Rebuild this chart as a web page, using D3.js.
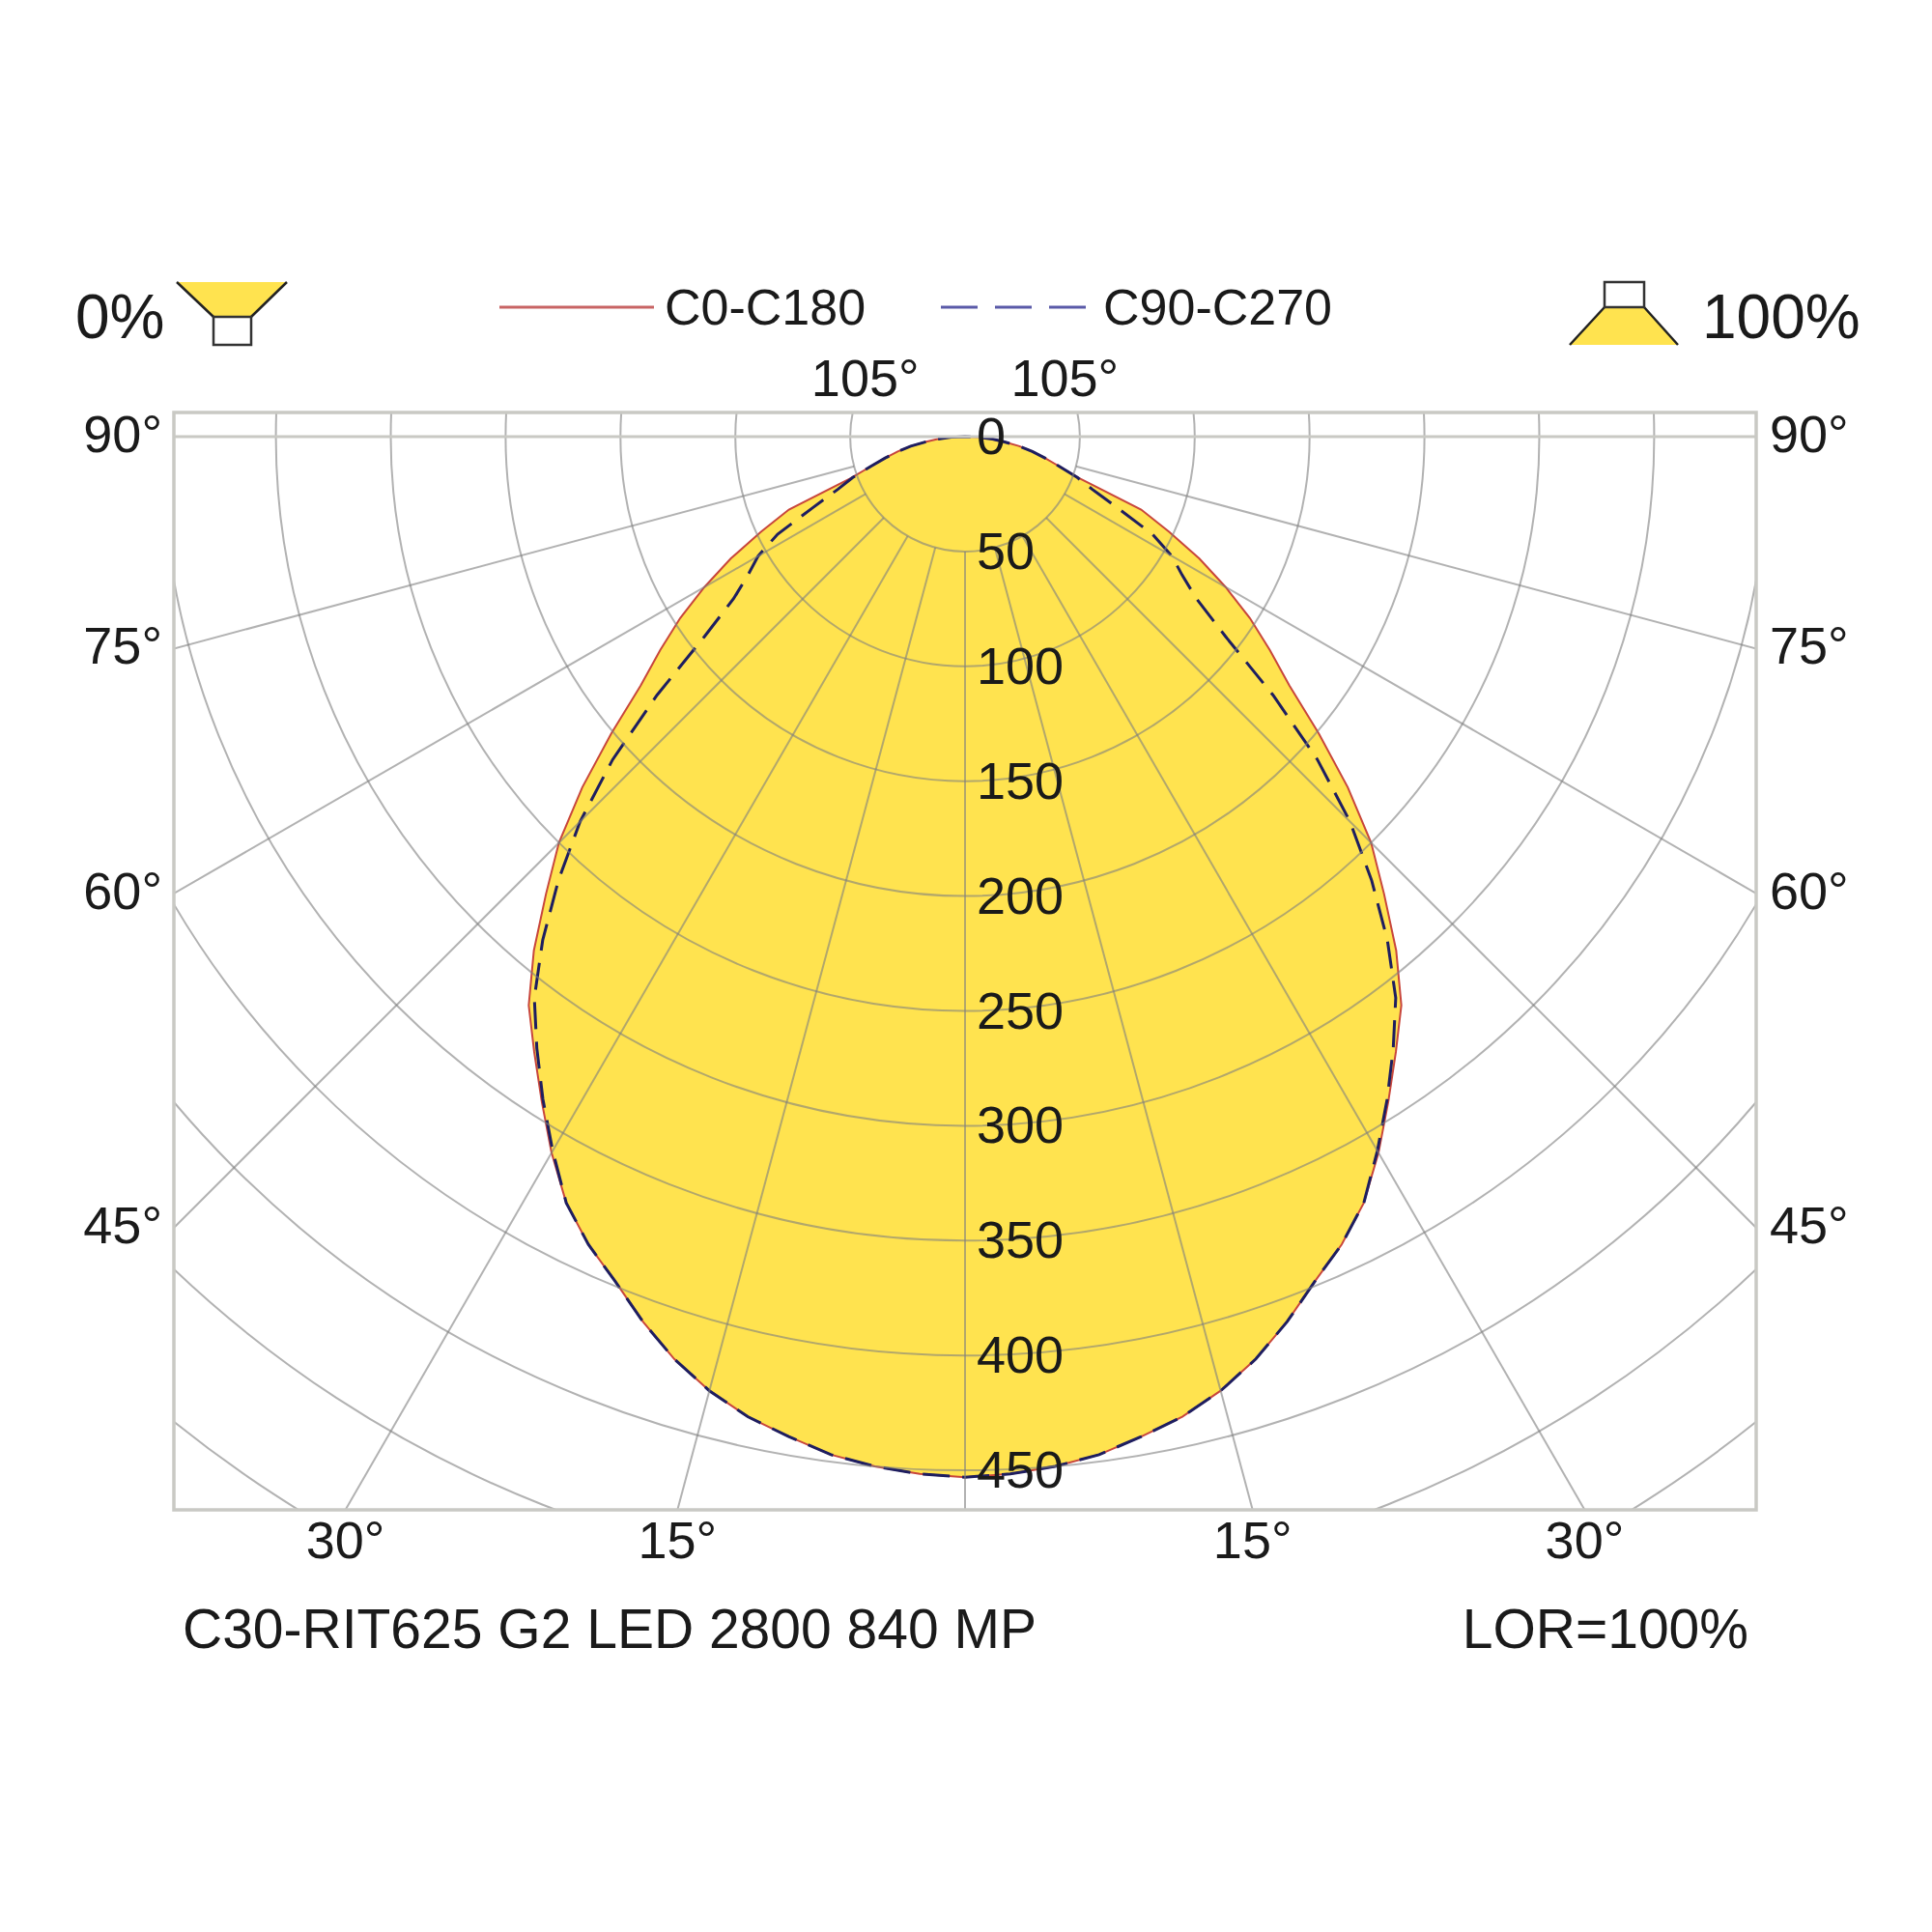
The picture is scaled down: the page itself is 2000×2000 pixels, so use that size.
<!DOCTYPE html>
<html>
<head>
<meta charset="utf-8">
<script src="https://cdn.jsdelivr.net/npm/d3@7"></script>
<style>
  html, body { margin: 0; padding: 0; background: #fff; }
  svg text { font-family: "Liberation Sans", Arial, sans-serif; fill: #1a1a1a; }
</style>
</head>
<body>
<svg id="chart" width="2000" height="2000"></svg>
<script>
// gamma angles (deg from nadir) and intensities in cd
const gammas = d3.range(0, 90.1, 2.5);
const c0c180 = [453, 452, 450, 447, 442, 437, 430, 421, 410, 398, 388, 376, 360,
  343, 327, 312, 292, 270, 250, 226, 201, 178, 162, 147, 131, 115, 98, 83, 53,
  43, 36, 30, 24, 17, 12, 6, 0];
const c90c270 = [453, 452, 450, 447, 442, 437, 430, 421, 410, 398, 388, 376, 359,
  342, 325, 308, 286, 262, 237, 208, 175, 143, 123, 112, 104, 92, 73, 60, 52,
  43, 36, 30, 24, 17, 12, 6, 0];

const intensityTicks = [0, 50, 100, 150, 200, 250, 300, 350, 400, 450];
const sideAngles = [90, 75, 60, 45];
const bottomAngles = [30, 15];
const legendNames = ["C0-C180", "C90-C270"];

const svg = d3.select('#chart');
const cx = 999, cy = 452;
const frame = { x0: 180, y0: 427, x1: 1818, y1: 1563 };
const r = d3.scaleLinear().domain([0, 50]).range([0, 118.9]);

const yellow = '#ffe34f';
const redC = '#c8463c';
const blueC = '#1e1e60';

svg.append('rect').attr('width', 2000).attr('height', 2000).attr('fill', '#fff');

svg.append('clipPath').attr('id', 'frameClip')
  .append('rect')
  .attr('x', frame.x0).attr('y', frame.y0)
  .attr('width', frame.x1 - frame.x0).attr('height', frame.y1 - frame.y0);

// both halves of a curve: left (C180 / C270) then right (C0 / C90)
function polarPts(vals) {
  let pts = [];
  gammas.slice().reverse().forEach((g, i) => {
    let v = vals[gammas.length - 1 - i];
    pts.push({ a: Math.PI + g * Math.PI / 180, v: v });
  });
  gammas.forEach((g, i) => {
    if (i > 0) pts.push({ a: Math.PI - g * Math.PI / 180, v: vals[i] });
  });
  return pts;
}

const radial = d3.lineRadial()
  .angle(d => d.a)
  .radius(d => r(d.v))
  .curve(d3.curveLinearClosed);

const plot = svg.append('g').attr('transform', `translate(${cx},${cy})`);

// fill
plot.append('path')
  .attr('d', radial(polarPts(c0c180)))
  .attr('fill', yellow)
  .attr('stroke', 'none');

// grid
const grid = svg.append('g').attr('clip-path', 'url(#frameClip)')
  .append('g').attr('transform', `translate(${cx},${cy})`);

grid.selectAll('circle.ring')
  .data(d3.range(50, 651, 50))
  .join('circle')
  .attr('class', 'ring')
  .attr('r', d => r(d))
  .attr('fill', 'none')
  .attr('stroke', '#7e7e7e')
  .attr('stroke-opacity', 0.6)
  .attr('stroke-width', 2);

grid.selectAll('line.spoke')
  .data(d3.range(-90, 91, 15))
  .join('line')
  .attr('class', 'spoke')
  .attr('x1', d => r(50) * Math.sin(d * Math.PI / 180))
  .attr('y1', d => r(50) * Math.cos(d * Math.PI / 180))
  .attr('x2', d => r(700) * Math.sin(d * Math.PI / 180))
  .attr('y2', d => r(700) * Math.cos(d * Math.PI / 180))
  .attr('stroke', '#7e7e7e')
  .attr('stroke-opacity', 0.6)
  .attr('stroke-width', 2);

// frame
svg.append('rect')
  .attr('x', frame.x0).attr('y', frame.y0)
  .attr('width', frame.x1 - frame.x0).attr('height', frame.y1 - frame.y0)
  .attr('fill', 'none')
  .attr('stroke', '#c9c9c4')
  .attr('stroke-width', 3.5);
svg.append('line')
  .attr('x1', frame.x0).attr('x2', frame.x1)
  .attr('y1', cy).attr('y2', cy)
  .attr('stroke', '#c9c9c4')
  .attr('stroke-width', 3);

// curves
plot.append('path')
  .attr('d', radial(polarPts(c0c180)))
  .attr('fill', 'none')
  .attr('stroke', redC)
  .attr('stroke-width', 2);
plot.append('path')
  .attr('d', radial(polarPts(c90c270)))
  .attr('fill', 'none')
  .attr('stroke', blueC)
  .attr('stroke-width', 3)
  .attr('stroke-dasharray', '28,13');

// intensity labels
svg.selectAll('text.cd')
  .data(intensityTicks)
  .join('text')
  .attr('class', 'cd')
  .attr('x', cx + 12)
  .attr('y', d => cy + r(d) + 18)
  .attr('font-size', 54)
  .text(d => d);

// side angle labels
const halfW = cx - frame.x0;
function sideY(a) { return a === 90 ? cy : cy + halfW / Math.tan(a * Math.PI / 180); }
svg.selectAll('text.left')
  .data(sideAngles)
  .join('text')
  .attr('class', 'left')
  .attr('x', 168)
  .attr('y', d => sideY(d) + 16)
  .attr('text-anchor', 'end')
  .attr('font-size', 54)
  .text(d => d + '°');
svg.selectAll('text.right')
  .data(sideAngles)
  .join('text')
  .attr('class', 'right')
  .attr('x', 1832)
  .attr('y', d => sideY(d) + 16)
  .attr('font-size', 54)
  .text(d => d + '°');

const depth = frame.y1 - cy;
svg.selectAll('text.bottom')
  .data(bottomAngles.concat(bottomAngles.map(d => -d).reverse()))
  .join('text')
  .attr('class', 'bottom')
  .attr('x', d => cx - depth * Math.tan(d * Math.PI / 180))
  .attr('y', 1613)
  .attr('text-anchor', 'middle')
  .attr('font-size', 54)
  .text(d => Math.abs(d) + '°');

// 105° labels at top
const topDx = (cy - frame.y0) / Math.tan(15 * Math.PI / 180);
[-1, 1].forEach(s => {
  svg.append('text')
    .attr('x', cx + s * (topDx + 10))
    .attr('y', 410)
    .attr('text-anchor', 'middle')
    .attr('font-size', 54)
    .text('105°');
});

// legend
svg.append('line')
  .attr('x1', 517).attr('x2', 677).attr('y1', 318).attr('y2', 318)
  .attr('stroke', '#c86464').attr('stroke-width', 3);
svg.append('text').attr('x', 688).attr('y', 336).attr('font-size', 52).text(legendNames[0]);
svg.append('line')
  .attr('x1', 974).attr('x2', 1136).attr('y1', 318).attr('y2', 318)
  .attr('stroke', '#5a5aa8').attr('stroke-width', 3)
  .attr('stroke-dasharray', '38,18');
svg.append('text').attr('x', 1142).attr('y', 336).attr('font-size', 52).text(legendNames[1]);

// percentages and luminaire icons
svg.append('text').attr('x', 78).attr('y', 350).attr('font-size', 64).text('0%');
svg.append('text').attr('x', 1762).attr('y', 350).attr('font-size', 64).text('100%');

// downward icon (left)
svg.append('path')
  .attr('d', 'M183,292 L297,292 L260,328 L221,328 Z')
  .attr('fill', yellow).attr('stroke', 'none');
svg.append('path')
  .attr('d', 'M183,292 L221,328 M297,292 L260,328')
  .attr('stroke', '#222').attr('stroke-width', 2.5).attr('fill', 'none');
svg.append('rect')
  .attr('x', 221).attr('y', 328).attr('width', 39).attr('height', 29)
  .attr('fill', '#fff').attr('stroke', '#333').attr('stroke-width', 2.5);

// upward icon (right)
svg.append('path')
  .attr('d', 'M1661,318 L1702,318 L1737,357 L1625,357 Z')
  .attr('fill', yellow).attr('stroke', 'none');
svg.append('path')
  .attr('d', 'M1661,318 L1625,357 M1702,318 L1737,357')
  .attr('stroke', '#222').attr('stroke-width', 2.5).attr('fill', 'none');
svg.append('rect')
  .attr('x', 1661).attr('y', 292).attr('width', 41).attr('height', 26)
  .attr('fill', '#fff').attr('stroke', '#333').attr('stroke-width', 2.5);

// footer
svg.append('text').attr('x', 189).attr('y', 1706).attr('font-size', 57)
  .text('C30-RIT625 G2 LED 2800 840 MP');
svg.append('text').attr('x', 1810).attr('y', 1706).attr('font-size', 57)
  .attr('text-anchor', 'end').text('LOR=100%');
</script>
</body>
</html>
